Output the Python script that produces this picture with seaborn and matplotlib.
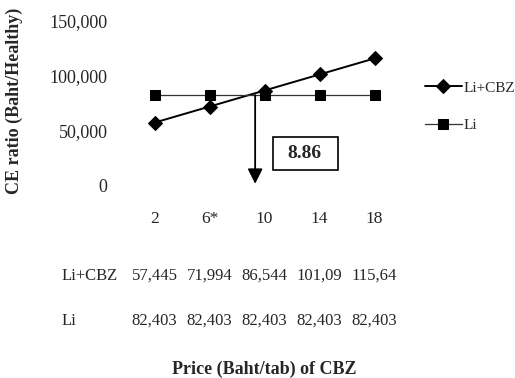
import matplotlib
matplotlib.use("Agg")
import matplotlib.pyplot as plt
import matplotlib.transforms as mtransforms
from matplotlib.patches import Rectangle
import seaborn as sns
import pandas as pd
import numpy as np

# ---- data ----
prices = ["2", "6*", "10", "14", "18"]
li_cbz = [57445, 71994, 86544, 101093, 115643]
li = [82403, 82403, 82403, 82403, 82403]
li_cbz_labels = ["57,445", "71,994", "86,544", "101,09", "115,64"]
li_labels = ["82,403", "82,403", "82,403", "82,403", "82,403"]
threshold_label = "8.86"
series_names = ["Li+CBZ", "Li"]

sns.set_theme(style="white")
plt.rcParams["font.family"] = ["Liberation Serif", "DejaVu Serif"]

pos = np.arange(len(prices))
df = pd.DataFrame({
    "pos": np.concatenate([pos, pos]),
    "value": li_cbz + li,
    "series": [series_names[0]] * len(pos) + [series_names[1]] * len(pos),
})

W, H = 515, 378
fig = plt.figure(figsize=(W / 100, H / 100), dpi=100)
ax = fig.add_axes([127 / W, (H - 186) / H, 275 / W, (186 - 20.5) / H])

sns.lineplot(data=df, x="pos", y="value", hue="series", style="series",
             markers={"Li+CBZ": "D", "Li": "s"}, dashes=False,
             palette={"Li+CBZ": "black", "Li": "#333333"},
             markersize=7, ax=ax, legend=False)
for line, lw in zip(ax.lines, [1.4, 0.9]):
    line.set_linewidth(lw)
    line.set_markeredgecolor("black")
    line.set_markerfacecolor("black")
ax.lines[0].set_markersize(6.8)
ax.lines[1].set_markersize(7.6)

ax.set_xlim(-0.5, len(prices) - 0.5)
ax.set_ylim(0, 150000)
yt = [0, 50000, 100000, 150000]
ax.set_yticks(yt)
ax.set_yticklabels([f"{v:,}" for v in yt], fontsize=13)
ax.set_xticks(pos)
ax.set_xticklabels(prices, fontsize=12.5)
ax.tick_params(axis="y", pad=14, length=0)
ax.tick_params(axis="x", pad=18, length=0)
for s in ax.spines.values():
    s.set_visible(False)
ax.set_xlabel("")
ax.set_ylabel("")

fig.text(14 / W, (H - 101) / H, "CE ratio (Baht/Healthy)", rotation=90,
         ha="center", va="center", fontsize=13, fontweight="bold")
fig.text(264 / W, (H - 369) / H, "Price (Baht/tab) of CBZ",
         ha="center", va="center", fontsize=13, fontweight="bold")

# arrow from crossing point down to axis
ax_x = 1.83
ax.annotate("", xy=(ax_x, 2000), xytext=(ax_x, li[0]),
            arrowprops=dict(arrowstyle="-|>,head_length=0.6,head_width=0.3",
                            mutation_scale=15, color="black", lw=1.3,
                            shrinkA=0, shrinkB=0))

# boxed threshold
fig.patches.append(Rectangle((273 / W, (H - 170) / H), 65 / W, 33 / H,
                             transform=fig.transFigure, fill=False,
                             edgecolor="black", lw=1.2))
fig.text(304 / W, (H - 153.5) / H, threshold_label, ha="center", va="center",
         fontsize=14, fontweight="bold")

# legend
handles = ax.lines[:2]
leg = fig.legend(handles, series_names, loc="upper left",
                 bbox_to_anchor=(425 / W, (H - 81) / H), frameon=False,
                 fontsize=11, handlelength=2.4, labelspacing=1.55,
                 borderpad=0, borderaxespad=0, handletextpad=0.15)

# data table
tr = mtransforms.blended_transform_factory(ax.transData, fig.transFigure)
row_y = [(H - 276) / H, (H - 321) / H]
for lab, vals, y in zip(series_names, [li_cbz_labels, li_labels], row_y):
    fig.text(62 / W, y, lab, ha="left", va="center", fontsize=12)
    for p, v in zip(pos, vals):
        ax.text(p, y, v, transform=tr, ha="center", va="center", fontsize=12)

fig.savefig("out.png", dpi=100)
